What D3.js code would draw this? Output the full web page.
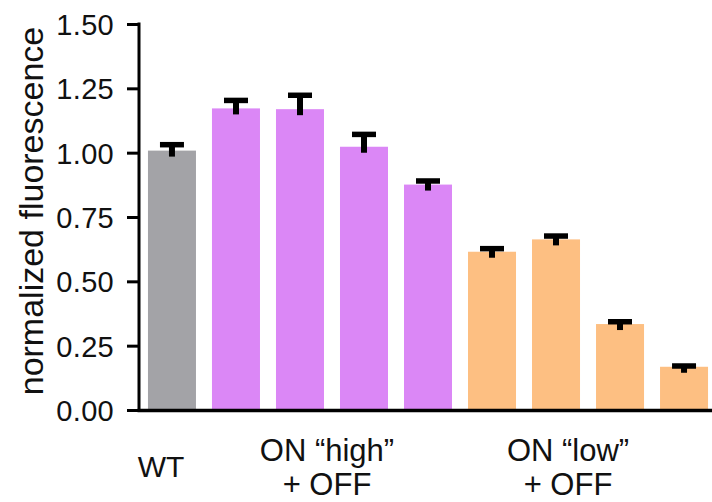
<!DOCTYPE html>
<html>
<head>
<meta charset="utf-8">
<script src="https://cdn.jsdelivr.net/npm/d3@7"></script>
<style>
  html, body { margin: 0; padding: 0; background: #fff; }
  svg { display: block; font-family: "Liberation Sans", Arial, sans-serif; }
</style>
</head>
<body>
<div id="chart"></div>
<script>
// bar data
const categories = ['WT', 'high1', 'high2', 'high3', 'high4', 'low1', 'low2', 'low3', 'low4'];
const groups     = ['wt', 'high', 'high', 'high', 'high', 'low', 'low', 'low', 'low'];
const values     = [1.008, 1.172, 1.169, 1.023, 0.876, 0.615, 0.663, 0.334, 0.168];
const errors     = [0.023, 0.031, 0.054, 0.048, 0.014, 0.012, 0.013, 0.009, 0.003];
const yTicks     = [0, 0.25, 0.5, 0.75, 1.0, 1.25, 1.5];
const groupLabels = [
  { lines: ['ON \u201chigh\u201d', '+ OFF'], from: 'high1', to: 'high4', dx: -5 },
  { lines: ['ON \u201clow\u201d', '+ OFF'], from: 'low1', to: 'low4', dx: -20 },
];

const COLORS = { wt: '#a3a3a7', high: '#db87f6', low: '#fdbf82' };

const W = 712, H = 502;
const X0 = 139, X1 = 717;
const Y0 = 410, Y1 = 24;

const svg = d3.select('#chart').append('svg')
  .attr('width', W).attr('height', H);

const x = d3.scaleBand()
  .domain(categories)
  .range([X0, X1])
  .paddingInner(0.25)
  .paddingOuter(0.14);

const y = d3.scaleLinear().domain([0, 1.5]).range([Y0, Y1]);

const rows = categories.map((c, i) => ({ c, g: groups[i], v: values[i], e: errors[i] }));

// bars
svg.selectAll('.bar')
  .data(rows)
  .join('rect')
  .attr('class', 'bar')
  .attr('x', d => x(d.c))
  .attr('y', d => y(d.v))
  .attr('width', x.bandwidth())
  .attr('height', d => y(0) - y(d.v))
  .attr('fill', d => COLORS[d.g]);

// error bars (upper only, stem dips a bit into the bar)
const err = svg.append('g').attr('class', 'errors');
err.selectAll('line.stem')
  .data(rows)
  .join('line')
  .attr('class', 'stem')
  .attr('x1', d => x(d.c) + x.bandwidth() / 2)
  .attr('x2', d => x(d.c) + x.bandwidth() / 2)
  .attr('y1', d => y(d.v + d.e))
  .attr('y2', d => y(d.v) + 6)
  .attr('stroke', '#000')
  .attr('stroke-width', 6);
err.selectAll('line.cap')
  .data(rows)
  .join('line')
  .attr('class', 'cap')
  .attr('x1', d => x(d.c) + x.bandwidth() / 2 - 12)
  .attr('x2', d => x(d.c) + x.bandwidth() / 2 + 12)
  .attr('y1', d => y(d.v + d.e))
  .attr('y2', d => y(d.v + d.e))
  .attr('stroke', '#000')
  .attr('stroke-width', 5.5);

// y axis
const yAxis = svg.append('g')
  .attr('transform', `translate(${X0},0)`)
  .call(d3.axisLeft(y).tickValues(yTicks).tickFormat(d3.format('.2f')).tickSize(12).tickSizeOuter(0));
yAxis.select('.domain').attr('stroke', '#000').attr('stroke-width', 3)
  .attr('d', `M0,${Y1 - 1.5}V${Y0 + 1.5}`);
yAxis.selectAll('.tick line').attr('stroke', '#000').attr('stroke-width', 3);
yAxis.selectAll('.tick text')
  .attr('x', -25)
  .attr('dy', '0.36em')
  .attr('font-size', 29)
  .attr('font-family', '"Liberation Sans", Arial, sans-serif')
  .attr('letter-spacing', 0.3)
  .attr('fill', '#111');

// x axis line
svg.append('line')
  .attr('x1', X0 - 1.5).attr('x2', W)
  .attr('y1', y(0) + 0.5).attr('y2', y(0) + 0.5)
  .attr('stroke', '#000').attr('stroke-width', 3.5);

// y title
svg.append('text')
  .attr('transform', 'translate(43, 211) rotate(-90)')
  .attr('text-anchor', 'middle')
  .attr('font-size', 34)
  .attr('fill', '#111')
  .text('normalized fluorescence');

// x labels
svg.append('text')
  .attr('x', x('WT') + x.bandwidth() / 2 - 11)
  .attr('y', 477)
  .attr('text-anchor', 'middle')
  .attr('font-size', 30)
  .attr('fill', '#111')
  .text('WT');

groupLabels.forEach(gl => {
  const cx = (x(gl.from) + x(gl.to) + x.bandwidth()) / 2 + gl.dx;
  gl.lines.forEach((t, i) => {
    svg.append('text')
      .attr('x', cx)
      .attr('y', 461 + i * 34)
      .attr('text-anchor', 'middle')
      .attr('font-size', 31)
      .attr('fill', '#111')
      .text(t);
  });
});
</script>
</body>
</html>
